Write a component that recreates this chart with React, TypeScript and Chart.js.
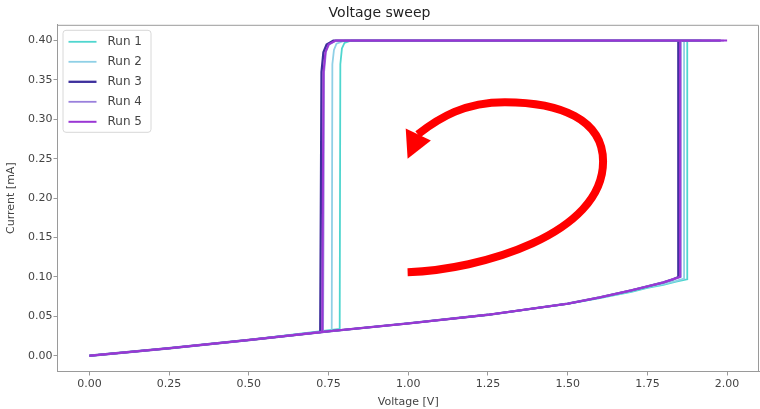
import React, { useEffect, useRef } from "react";
import { Chart, registerables } from "chart.js";
Chart.register(...registerables);

const TITLE = "Voltage sweep";
const X_TITLE = "Voltage [V]";
const Y_TITLE = "Current [mA]";

const RUN_LABELS = ["Run 1", "Run 2", "Run 3", "Run 4", "Run 5"];
const RUN_COLORS = ["#4fd6cf", "#8fd0e6", "#3d2f9c", "#9a80dc", "#9a36d4"];
const RUN_WIDTHS = [1.8, 1.8, 2.3, 1.8, 2.0];

// forward sweep (low branch) -> jump -> compliance -> reverse sweep -> drop -> low branch
const V1 = [0, 0.25, 0.5, 0.75, 1.0, 1.25, 1.5, 1.6, 1.7, 1.75, 1.8, 1.84, 1.875, 1.875, 1.92, 1.5, 1.0, 0.82, 0.8, 0.792, 0.787, 0.785, 0.5, 0.25, 0];
const I1 = [0, 0.0095, 0.02, 0.031, 0.041, 0.052, 0.066, 0.073, 0.081, 0.086, 0.09, 0.094, 0.097, 0.4, 0.4, 0.4, 0.4, 0.4, 0.397, 0.39, 0.37, 0.034, 0.02, 0.0095, 0];
const V2 = [0, 0.25, 0.5, 0.75, 1.0, 1.25, 1.5, 1.6, 1.7, 1.75, 1.8, 1.84, 1.865, 1.865, 1.95, 1.5, 1.0, 0.8, 0.775, 0.767, 0.762, 0.76, 0.5, 0.25, 0];
const I2 = [0, 0.0095, 0.02, 0.031, 0.041, 0.052, 0.066, 0.073, 0.082, 0.087, 0.091, 0.095, 0.098, 0.4, 0.4, 0.4, 0.4, 0.4, 0.396, 0.388, 0.37, 0.032, 0.02, 0.0095, 0];
const V3 = [0, 0.25, 0.5, 0.75, 1.0, 1.25, 1.5, 1.6, 1.7, 1.75, 1.8, 1.83, 1.847, 1.847, 1.98, 1.5, 1.0, 0.765, 0.744, 0.734, 0.728, 0.724, 0.5, 0.25, 0];
const I3 = [0, 0.0095, 0.02, 0.031, 0.041, 0.052, 0.066, 0.074, 0.083, 0.088, 0.093, 0.097, 0.1, 0.4, 0.4, 0.4, 0.4, 0.4, 0.395, 0.385, 0.36, 0.03, 0.02, 0.0095, 0];
const V4 = [0, 0.25, 0.5, 0.75, 1.0, 1.25, 1.5, 1.6, 1.7, 1.75, 1.8, 1.83, 1.855, 1.855, 1.99, 1.5, 1.0, 0.775, 0.752, 0.742, 0.736, 0.733, 0.5, 0.25, 0];
const I4 = [0, 0.0095, 0.02, 0.031, 0.041, 0.052, 0.066, 0.074, 0.083, 0.088, 0.093, 0.097, 0.1, 0.4, 0.4, 0.4, 0.4, 0.4, 0.395, 0.386, 0.36, 0.031, 0.02, 0.0095, 0];
const V5 = [0, 0.25, 0.5, 0.75, 1.0, 1.25, 1.5, 1.6, 1.7, 1.75, 1.8, 1.83, 1.852, 1.852, 2.0, 1.5, 1.0, 0.772, 0.75, 0.74, 0.734, 0.73, 0.5, 0.25, 0];
const I5 = [0, 0.0095, 0.02, 0.031, 0.041, 0.052, 0.066, 0.074, 0.083, 0.088, 0.093, 0.097, 0.1, 0.4, 0.4, 0.4, 0.4, 0.4, 0.395, 0.385, 0.36, 0.03, 0.02, 0.0095, 0];

const RUN_V = [V1, V2, V3, V4, V5];
const RUN_I = [I1, I2, I3, I4, I5];

const X_TICKS = [0, 0.25, 0.5, 0.75, 1.0, 1.25, 1.5, 1.75, 2.0];
const Y_TICKS = [0, 0.05, 0.1, 0.15, 0.2, 0.25, 0.3, 0.35, 0.4];
const X_RANGE = [-0.1, 2.1];
const Y_RANGE = [-0.02, 0.42];

// red curved arrow annotation, in data coordinates (start, then bezier triples)
const ARROW_V = [0.998, 1.224, 1.611, 1.611, 1.611, 1.476, 1.303, 1.177, 1.099, 1.03];
const ARROW_I = [0.106, 0.109, 0.1535, 0.2465, 0.300, 0.3217, 0.3217, 0.3217, 0.3025, 0.281];
const ARROW_HEAD_V = [0.992, 1.071, 0.998];
const ARROW_HEAD_I = [0.2885, 0.2732, 0.250];

const FONT = "'DejaVu Sans', sans-serif";
const SPINE = "#9a9a9a";

const framePlugin = {
  id: "frame",
  afterDatasetsDraw(chart: any) {
    const { ctx, chartArea: a, scales } = chart;
    const px = (v: number) => scales.x.getPixelForValue(v);
    const py = (v: number) => scales.y.getPixelForValue(v);
    ctx.save();
    // arrow
    ctx.strokeStyle = "#ff0000";
    ctx.fillStyle = "#ff0000";
    ctx.lineWidth = 8;
    ctx.lineCap = "butt";
    ctx.beginPath();
    ctx.moveTo(px(ARROW_V[0]), py(ARROW_I[0]));
    for (let k = 1; k + 2 < ARROW_V.length; k += 3) {
      ctx.bezierCurveTo(
        px(ARROW_V[k]), py(ARROW_I[k]),
        px(ARROW_V[k + 1]), py(ARROW_I[k + 1]),
        px(ARROW_V[k + 2]), py(ARROW_I[k + 2])
      );
    }
    ctx.stroke();
    ctx.beginPath();
    ctx.moveTo(px(ARROW_HEAD_V[0]), py(ARROW_HEAD_I[0]));
    ctx.lineTo(px(ARROW_HEAD_V[1]), py(ARROW_HEAD_I[1]));
    ctx.lineTo(px(ARROW_HEAD_V[2]), py(ARROW_HEAD_I[2]));
    ctx.closePath();
    ctx.fill();

    // top and right spines
    ctx.strokeStyle = SPINE;
    ctx.lineWidth = 1;
    ctx.beginPath();
    ctx.moveTo(a.left, a.top + 0.5);
    ctx.lineTo(a.right - 0.5, a.top + 0.5);
    ctx.lineTo(a.right - 0.5, a.bottom);
    ctx.stroke();

    // legend
    const lx = a.left + 5;
    const ly = a.top + 5;
    const lw = 88;
    const lh = 102;
    ctx.fillStyle = "rgba(255,255,255,0.8)";
    ctx.strokeStyle = "#d8d8d8";
    ctx.beginPath();
    (ctx as any).roundRect(lx + 0.5, ly + 0.5, lw, lh, 3);
    ctx.fill();
    ctx.stroke();
    ctx.font = `12px ${FONT}`;
    ctx.textBaseline = "middle";
    ctx.textAlign = "left";
    chart.data.datasets.forEach((ds: any, i: number) => {
      const y = ly + 12 + i * 20;
      ctx.strokeStyle = ds.borderColor;
      ctx.lineWidth = ds.borderWidth;
      ctx.beginPath();
      ctx.moveTo(lx + 6, y);
      ctx.lineTo(lx + 34, y);
      ctx.stroke();
      ctx.fillStyle = "#444";
      ctx.fillText(ds.label, lx + 45, y);
    });
    ctx.restore();
  },
};

export default function App() {
  const ref = useRef<HTMLCanvasElement>(null);
  useEffect(() => {
    document.body.style.margin = "0";
    const datasets = RUN_LABELS.map((label, i) => ({
      label,
      data: RUN_V[i].map((v, j) => ({ x: v, y: RUN_I[i][j] })),
      borderColor: RUN_COLORS[i],
      backgroundColor: RUN_COLORS[i],
      borderWidth: RUN_WIDTHS[i],
      order: RUN_LABELS.length - i,
      pointRadius: 0,
      tension: 0,
      fill: false,
    }));
    const chart = new Chart(ref.current as HTMLCanvasElement, {
      type: "line",
      data: { datasets },
      plugins: [framePlugin],
      options: {
        animation: false,
        responsive: false,
        maintainAspectRatio: false,
        layout: { padding: { left: 0, right: 1, top: 0, bottom: 0 } },
        plugins: {
          legend: { display: false },
          tooltip: { enabled: false },
          title: {
            display: true,
            text: TITLE,
            color: "#222",
            font: { family: FONT, size: 14, weight: "normal" },
            padding: { top: 5, bottom: 3 },
          },
        },
        scales: {
          x: {
            type: "linear",
            min: X_RANGE[0],
            max: X_RANGE[1],
            afterBuildTicks: (s: any) => { s.ticks = X_TICKS.map((v) => ({ value: v })); },
            afterFit: (s: any) => { s.height = 37.5; },
            ticks: {
              callback: (v: any) => Number(v).toFixed(2),
              color: "#444",
              font: { family: FONT, size: 11 },
              padding: 2,
              maxRotation: 0,
            },
            grid: { drawOnChartArea: false, drawTicks: true, tickLength: 4, color: SPINE },
            border: { display: true, color: SPINE },
            title: {
              display: true,
              text: X_TITLE,
              color: "#444",
              font: { family: FONT, size: 11 },
              padding: { top: 1, bottom: 0 },
            },
          },
          y: {
            type: "linear",
            min: Y_RANGE[0],
            max: Y_RANGE[1],
            afterBuildTicks: (s: any) => { s.ticks = Y_TICKS.map((v) => ({ value: v })); },
            afterFit: (s: any) => { s.width = 57.5; },
            ticks: {
              callback: (v: any) => Number(v).toFixed(2),
              color: "#444",
              font: { family: FONT, size: 11 },
              padding: 1,
            },
            grid: { drawOnChartArea: false, drawTicks: true, tickLength: 4, color: SPINE },
            border: { display: true, color: SPINE },
            title: {
              display: true,
              text: Y_TITLE,
              color: "#444",
              font: { family: FONT, size: 11 },
              padding: { top: 5, bottom: 0 },
            },
          },
        },
      } as any,
    });
    return () => chart.destroy();
  }, []);
  return (
    <div style={{ width: 760, height: 409, background: "#fff" }}>
      <canvas ref={ref} width={760} height={409} style={{ width: 760, height: 409, display: "block" }} />
    </div>
  );
}
